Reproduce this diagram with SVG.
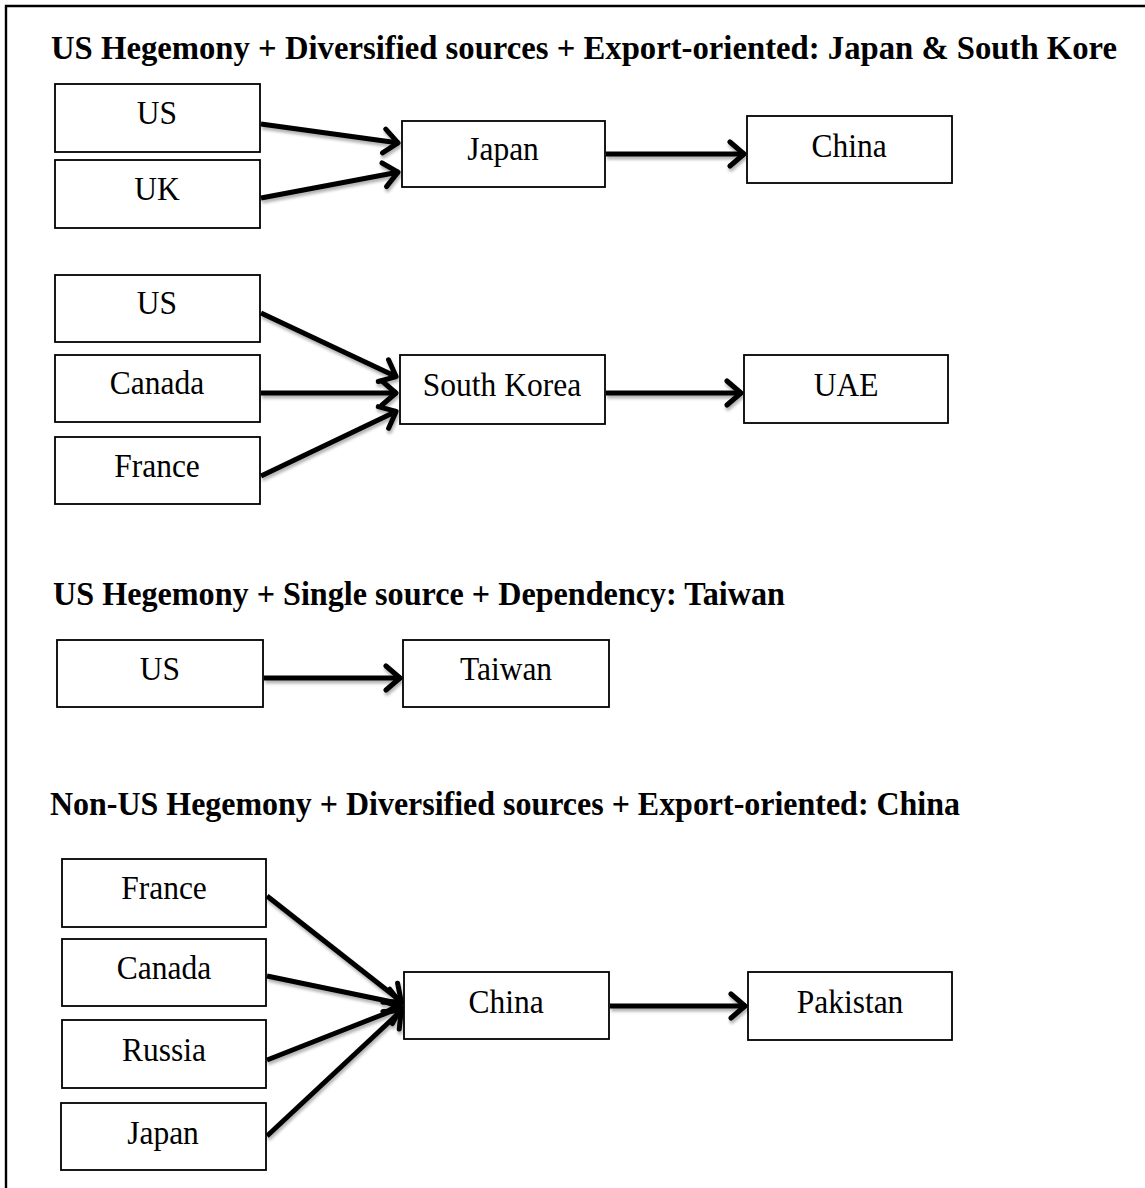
<svg xmlns="http://www.w3.org/2000/svg" width="1145" height="1188" viewBox="0 0 1145 1188">
  <style>
    .frame { fill: none; stroke: #000; stroke-width: 2.4; }
    .box { fill: #fff; stroke: #000; stroke-width: 1.8; }
    .lbl { font-family: "Liberation Serif", "Times New Roman", serif; font-size: 31.5px; fill: #000; text-anchor: middle; }
    .ttl { font-family: "Liberation Serif", "Times New Roman", serif; font-size: 32.5px; font-weight: bold; fill: #000; }
    .edge { fill: none; stroke: #000; stroke-width: 5; marker-end: url(#chev); }
  </style>
  <defs>
    <marker id="chev" markerUnits="userSpaceOnUse" markerWidth="26" markerHeight="32" refX="19" refY="15" orient="auto">
      <path d="M4,3 L18,15 L4,27" fill="none" stroke="#000" stroke-width="5" stroke-linecap="round" stroke-linejoin="round"/>
    </marker>
    <filter id="shade" x="-10%" y="-30%" width="120%" height="160%">
      <feDropShadow dx="1" dy="3" stdDeviation="1.8" flood-color="#000" flood-opacity="0.3"/>
    </filter>
  </defs>

  <rect width="1145" height="1188" fill="#fff"/>
  <!-- open frame: top and left edges only -->
  <path class="frame" d="M6,1188 L6,6 L1145,6"/>

  <!-- section headings -->
  <text class="ttl" transform="translate(51,59) scale(1,1.06)" textLength="1066" lengthAdjust="spacingAndGlyphs">US Hegemony + Diversified sources + Export-oriented: Japan &amp; South Kore</text>
  <text class="ttl" transform="translate(53,605) scale(1,1.06)" textLength="732" lengthAdjust="spacingAndGlyphs">US Hegemony + Single source + Dependency: Taiwan</text>
  <text class="ttl" transform="translate(50,815) scale(1,1.06)" textLength="910" lengthAdjust="spacingAndGlyphs">Non-US Hegemony + Diversified sources + Export-oriented: China</text>

  <!-- connectors -->
  <g id="connectors" filter="url(#shade)">
    <line class="edge" x1="261" y1="124" x2="399" y2="143"/>
    <line class="edge" x1="261" y1="198" x2="399" y2="172"/>
    <line class="edge" x1="606" y1="154" x2="745" y2="154"/>

    <line class="edge" x1="261" y1="313" x2="397" y2="377"/>
    <line class="edge" x1="261" y1="393" x2="397" y2="393"/>
    <line class="edge" x1="261" y1="476" x2="397" y2="411"/>
    <line class="edge" x1="606" y1="393" x2="742" y2="393"/>

    <line class="edge" x1="264" y1="678" x2="401" y2="678"/>

    <line class="edge" x1="267" y1="896" x2="402" y2="1002"/>
    <line class="edge" x1="267" y1="976" x2="402" y2="1004"/>
    <line class="edge" x1="267" y1="1060" x2="402" y2="1007"/>
    <line class="edge" x1="267" y1="1136" x2="402" y2="1010"/>
    <line class="edge" x1="610" y1="1006" x2="746" y2="1006"/>
  </g>

  <!-- section 1 -->
  <g id="n-us-1"><rect class="box" x="55" y="84" width="205" height="68"/><text class="lbl" transform="translate(157,124) scale(1,1.1)">US</text></g>
  <g id="n-uk-1"><rect class="box" x="55" y="160" width="205" height="68"/><text class="lbl" transform="translate(157,200) scale(1,1.1)">UK</text></g>
  <g id="n-japan-1"><rect class="box" x="402" y="121" width="203" height="66"/><text class="lbl" transform="translate(503,160) scale(1,1.1)">Japan</text></g>
  <g id="n-china-1"><rect class="box" x="747" y="116" width="205" height="67"/><text class="lbl" transform="translate(849,157) scale(1,1.1)">China</text></g>

  <!-- section 1b -->
  <g id="n-us-2"><rect class="box" x="55" y="275" width="205" height="67"/><text class="lbl" transform="translate(157,314) scale(1,1.1)">US</text></g>
  <g id="n-canada-2"><rect class="box" x="55" y="355" width="205" height="67"/><text class="lbl" transform="translate(157,394) scale(1,1.1)">Canada</text></g>
  <g id="n-france-2"><rect class="box" x="55" y="437" width="205" height="67"/><text class="lbl" transform="translate(157,477) scale(1,1.1)">France</text></g>
  <g id="n-skorea"><rect class="box" x="400" y="355" width="205" height="69"/><text class="lbl" transform="translate(502,396) scale(1,1.1)">South Korea</text></g>
  <g id="n-uae"><rect class="box" x="744" y="355" width="204" height="68"/><text class="lbl" transform="translate(846,396) scale(1,1.1)">UAE</text></g>

  <!-- section 2 -->
  <g id="n-us-3"><rect class="box" x="57" y="640" width="206" height="67"/><text class="lbl" transform="translate(160,680) scale(1,1.1)">US</text></g>
  <g id="n-taiwan"><rect class="box" x="403" y="640" width="206" height="67"/><text class="lbl" transform="translate(506,680) scale(1,1.1)">Taiwan</text></g>

  <!-- section 3 -->
  <g id="n-france-4"><rect class="box" x="62" y="859" width="204" height="68"/><text class="lbl" transform="translate(164,899) scale(1,1.1)">France</text></g>
  <g id="n-canada-4"><rect class="box" x="62" y="939" width="204" height="67"/><text class="lbl" transform="translate(164,979) scale(1,1.1)">Canada</text></g>
  <g id="n-russia-4"><rect class="box" x="62" y="1020" width="204" height="68"/><text class="lbl" transform="translate(164,1061) scale(1,1.1)">Russia</text></g>
  <g id="n-japan-4"><rect class="box" x="61" y="1103" width="205" height="67"/><text class="lbl" transform="translate(163,1144) scale(1,1.1)">Japan</text></g>
  <g id="n-china-4"><rect class="box" x="404" y="972" width="205" height="67"/><text class="lbl" transform="translate(506,1013) scale(1,1.1)">China</text></g>
  <g id="n-pakistan"><rect class="box" x="748" y="972" width="204" height="68"/><text class="lbl" transform="translate(850,1013) scale(1,1.1)">Pakistan</text></g>
</svg>
